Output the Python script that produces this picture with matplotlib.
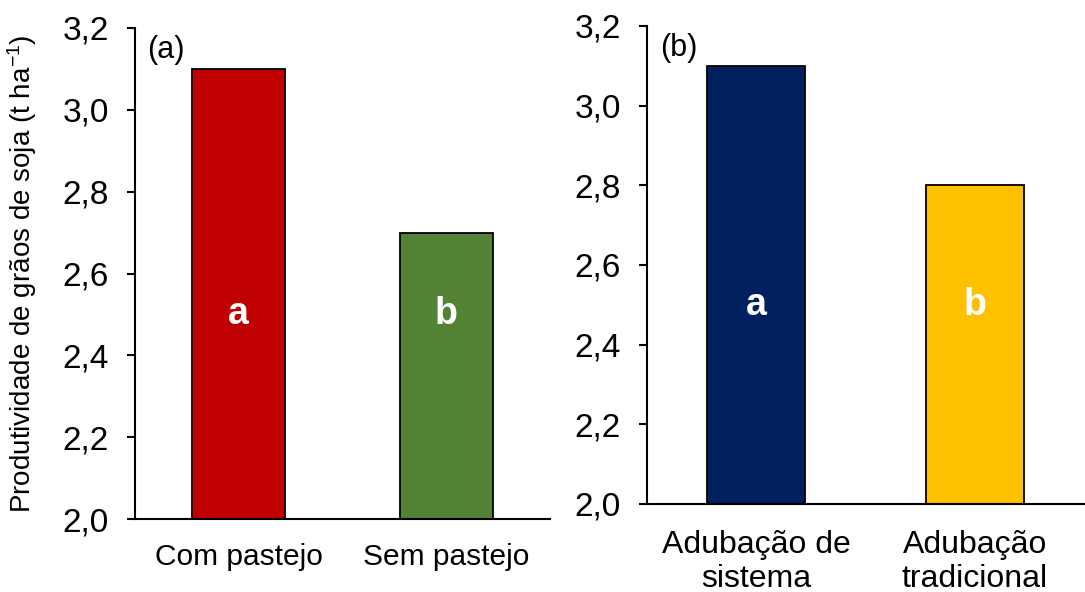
import matplotlib
matplotlib.use("Agg")
import matplotlib.pyplot as plt

plt.rcParams['font.family'] = ['Liberation Sans', 'DejaVu Sans']
plt.rcParams['mathtext.fontset'] = 'custom'
plt.rcParams['mathtext.rm'] = 'Liberation Sans'
plt.rcParams['mathtext.it'] = 'Liberation Sans:italic'
plt.rcParams['mathtext.bf'] = 'Liberation Sans:bold'
plt.rcParams['mathtext.default'] = 'regular'

cats_a = ["Com pastejo", "Sem pastejo"]
vals_a = [3.1, 2.7]
letters_a = ["a", "b"]
colors_a = ["#C00000", "#548235"]

cats_b = ["Adubação de\nsistema", "Adubação\ntradicional"]
vals_b = [3.1, 2.8]
letters_b = ["a", "b"]
colors_b = ["#002060", "#FFC000"]

yticks = [2.0, 2.2, 2.4, 2.6, 2.8, 3.0, 3.2]
ytick_labels = ["2,0", "2,2", "2,4", "2,6", "2,8", "3,0", "3,2"]
letter_y = 2.5

fig = plt.figure(figsize=(10.85, 5.92), dpi=100)
ax_a = fig.add_axes([135/1085, 1-519/592, 415/1085, 491/592])
ax_b = fig.add_axes([647/1085, 1-504/592, 437/1085, 478/592])

def draw(ax, cats, vals, letters, colors, panel, xfs, xpad):
    x = list(range(len(cats)))
    ax.bar(x, [v - 2.0 for v in vals], bottom=2.0, width=0.45, color=colors,
           edgecolor="black", linewidth=1.3, zorder=2)
    ax.set_xlim(-0.5, 1.5)
    ax.set_ylim(2.0, 3.2)
    ax.set_yticks(yticks)
    ax.set_yticklabels(ytick_labels, fontsize=24)
    ax.set_xticks(x)
    ax.set_xticklabels(cats, fontsize=xfs, linespacing=1.15)
    ax.tick_params(axis='x', length=0, pad=xpad)
    ax.tick_params(axis='y', direction='out', length=6, width=1.5, pad=13)
    for s in ["top", "right"]:
        ax.spines[s].set_visible(False)
    for s in ["left", "bottom"]:
        ax.spines[s].set_linewidth(1.5)
    for xi, l in zip(x, letters):
        ax.text(xi, letter_y, l, color="white", fontsize=27, fontweight="bold",
                ha="center", va="center", zorder=3)
    ax.text(0.03, 0.985, panel, transform=ax.transAxes, fontsize=22,
            ha="left", va="top")

draw(ax_a, cats_a, vals_a, letters_a, colors_a, "(a)", 21.5, 17)
draw(ax_b, cats_b, vals_b, letters_b, colors_b, "(b)", 23, 19)

ax_a.set_ylabel("Produtividade de grãos de soja (t ha$^{-1}$)", fontsize=20)
ax_a.yaxis.set_label_coords(-0.232, 0.5)

fig.savefig("out.png", dpi=100)
